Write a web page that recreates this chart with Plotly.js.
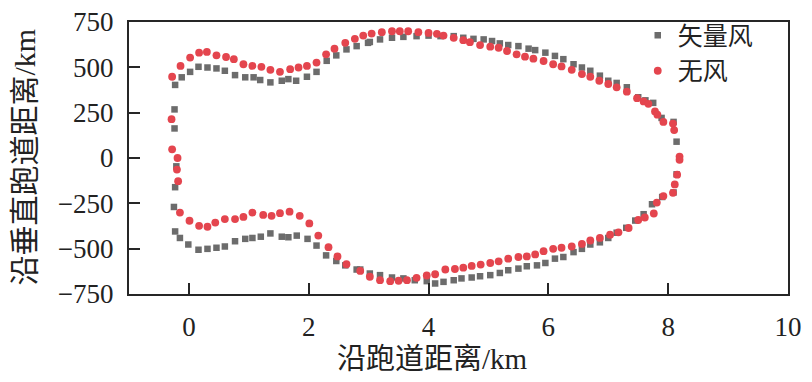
<!DOCTYPE html>
<html><head><meta charset="utf-8">
<script src="https://cdn.plot.ly/plotly-3.0.1.min.js"></script>
<style>html,body{margin:0;padding:0;background:#fff}#chart{width:812px;height:382px}</style>
</head><body><div id="chart"></div>
<script>
// 矢量风 (vector wind) — gray squares
const vecX = [-0.23,-0.12,0.02,0.16,0.31,0.46,0.60,0.77,0.94,1.08,1.19,1.36,1.55,1.66,1.79,1.97,2.13,2.30,2.46,2.63,2.80,2.99,3.02,3.19,3.39,3.58,3.80,4.00,4.20,4.42,4.58,4.75,4.92,5.06,5.19,5.33,5.50,5.67,5.78,5.95,6.11,6.25,6.42,6.56,6.70,6.86,7.00,7.14,7.31,7.50,7.62,7.75,7.89,8.09,8.14,8.14,8.09,7.90,7.73,7.59,7.45,7.30,7.14,7.00,6.86,6.70,6.56,6.42,6.25,6.11,5.95,5.81,5.64,5.50,5.33,5.19,5.03,4.86,4.72,4.55,4.42,4.25,4.11,3.97,3.77,3.58,3.39,3.19,3.02,2.86,2.80,2.61,2.46,2.29,2.13,1.98,1.80,1.66,1.55,1.36,1.20,1.06,0.94,0.77,0.60,0.46,0.31,0.16,-0.01,-0.15,-0.23,-0.25,-0.23,-0.21,-0.24,-0.24];
const vecY = [403,445,475,503,499,494,481,457,445,445,430,417,426,435,426,448,475,536,566,599,617,635,640,654,663,668,672,675,672,672,663,657,654,645,632,623,617,603,595,581,563,545,517,499,481,454,426,414,390,335,318,304,221,199,90,-90,-190,-215,-255,-310,-345,-385,-412,-441,-465,-477,-501,-519,-546,-555,-579,-592,-597,-610,-619,-634,-646,-652,-659,-664,-674,-683,-692,-679,-674,-664,-659,-646,-637,-615,-615,-592,-568,-537,-483,-446,-428,-437,-434,-416,-434,-441,-446,-459,-488,-495,-501,-506,-477,-441,-405,-270,-161,-46,163,268];
// 无风 (no wind) — red circles
const calmX = [-0.28,-0.14,0.02,0.17,0.30,0.46,0.62,0.75,0.91,1.06,1.21,1.36,1.52,1.69,1.83,1.97,2.13,2.29,2.43,2.61,2.77,2.91,3.05,3.22,3.39,3.52,3.66,3.83,4.00,4.14,4.25,4.42,4.58,4.69,4.86,5.03,5.17,5.31,5.47,5.61,5.75,5.92,6.08,6.22,6.39,6.56,6.70,6.85,7.00,7.14,7.31,7.48,7.59,7.67,7.78,7.82,7.92,8.08,8.10,8.19,8.19,8.15,8.11,8.08,7.92,7.81,7.76,7.61,7.50,7.34,7.17,7.03,6.86,6.70,6.56,6.39,6.22,6.08,5.92,5.78,5.64,5.50,5.33,5.17,5.03,4.87,4.72,4.58,4.44,4.28,4.11,3.97,3.80,3.64,3.50,3.36,3.19,3.02,2.86,2.63,2.48,2.33,2.16,2.01,1.85,1.68,1.52,1.38,1.24,1.06,0.91,0.77,0.60,0.44,0.31,0.17,0.01,-0.15,-0.18,-0.20,-0.19,-0.28,-0.29];
const calmY = [448,508,554,581,585,566,557,545,517,508,503,486,475,490,499,508,526,572,603,635,657,675,686,694,699,699,699,694,690,685,675,663,650,639,623,614,608,590,572,559,548,535,517,505,486,463,448,426,408,390,366,330,312,299,257,239,199,190,154,8,-10,-92,-146,-192,-210,-246,-306,-328,-342,-386,-410,-423,-441,-455,-474,-488,-495,-501,-514,-532,-543,-546,-555,-570,-579,-588,-595,-605,-612,-615,-641,-648,-661,-674,-677,-679,-674,-655,-623,-586,-543,-492,-428,-361,-319,-296,-304,-319,-314,-301,-325,-337,-337,-356,-379,-374,-346,-301,-128,-64,0,48,214,254];
const names = ['矢量风','无风'];
const xTicks = [0,2,4,6,8,10];
const yTicks = [-750,-500,-250,0,250,500,750];
const xTitle = '沿跑道距离/km';
const yTitle = '沿垂直跑道距离/km';

const fontFam = '"Liberation Serif","Noto Sans CJK SC",serif';
const axisCommon = {
  showline:true, mirror:true, linecolor:'#262626', linewidth:2,
  ticks:'inside', ticklen:11, tickwidth:2, tickcolor:'#262626',
  showgrid:false, zeroline:false,
  tickfont:{family:fontFam, size:27, color:'#222'},
  ticklabelstandoff:8
};
const data = [
  {x:vecX, y:vecY, type:'scatter', mode:'markers', name:names[0],
   marker:{symbol:'square', size:6.5, color:'#6c6c6c'}},
  {x:calmX, y:calmY, type:'scatter', mode:'markers', name:names[1],
   marker:{symbol:'circle', size:7.8, color:'#e4454e'}}
];
const layout = {
  width:812, height:382,
  margin:{l:129, r:24, t:19, b:88},
  paper_bgcolor:'#fff', plot_bgcolor:'#fff',
  showlegend:true,
  legend:{x:0.772, xanchor:'left', y:1.035, yanchor:'top', bgcolor:'rgba(0,0,0,0)',
    font:{family:'"Noto Sans CJK SC",sans-serif', size:25, color:'#222'},
    itemwidth:30, tracegroupgap:0},
  xaxis:Object.assign({}, axisCommon, {range:[-1,10], tickvals:xTicks}),
  yaxis:Object.assign({}, axisCommon, {range:[-750,750], tickvals:yTicks}),
  annotations:[
    {text:xTitle, xref:'paper', yref:'paper', x:0.461, y:-0.238, xanchor:'center', yanchor:'middle',
     showarrow:false, font:{family:fontFam, size:29, color:'#222'}},
    {text:yTitle, xref:'paper', yref:'paper', x:-0.158, y:0.505, xanchor:'center', yanchor:'middle',
     textangle:-90, showarrow:false, font:{family:fontFam, size:30, color:'#222'}}
  ]
};
Plotly.newPlot('chart', data, layout, {displayModeBar:false, staticPlot:true});
</script></body></html>
